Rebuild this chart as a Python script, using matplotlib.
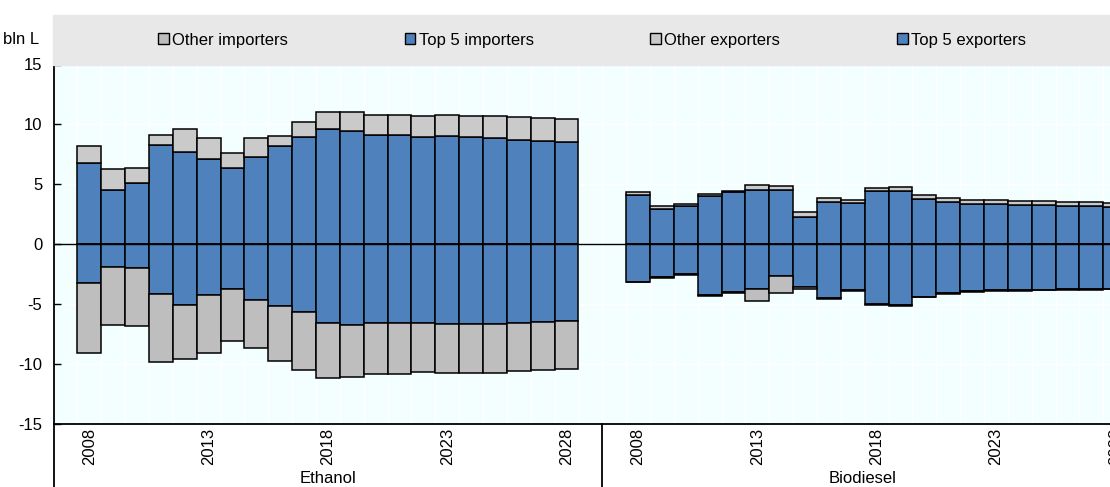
import numpy as np
import matplotlib.pyplot as plt
from matplotlib.lines import Line2D
from matplotlib.patches import Patch

plt.rcParams['font.family'] = ['Liberation Sans Narrow', 'Liberation Sans', 'DejaVu Sans']

years = list(range(2008, 2029))
groups = ['Ethanol', 'Biodiesel']

# exports (positive side), bln L
eth_top5_exp = [6.74, 4.51, 5.12, 8.24, 7.66, 7.10, 6.35, 7.27, 8.19, 8.91, 9.58,
                9.44, 9.10, 9.07, 8.96, 8.99, 8.93, 8.82, 8.68, 8.60, 8.50]
eth_total_exp = [8.21, 6.27, 6.32, 9.10, 9.58, 8.88, 7.58, 8.83, 9.05, 10.17, 11.00,
                 11.05, 10.80, 10.80, 10.69, 10.77, 10.72, 10.67, 10.58, 10.50, 10.44]
bio_top5_exp = [4.10, 2.90, 3.17, 4.00, 4.33, 4.50, 4.48, 2.27, 3.49, 3.43, 4.39,
                4.43, 3.78, 3.50, 3.36, 3.33, 3.28, 3.22, 3.17, 3.14, 3.08]
bio_total_exp = [4.36, 3.21, 3.36, 4.15, 4.43, 4.97, 4.84, 2.67, 3.81, 3.70, 4.70,
                 4.77, 4.11, 3.83, 3.69, 3.64, 3.58, 3.56, 3.53, 3.50, 3.44]

# imports (negative side), bln L
eth_top5_imp = [-3.22, -1.95, -2.02, -4.16, -5.07, -4.25, -3.76, -4.68, -5.16, -5.72, -6.56,
                -6.78, -6.63, -6.63, -6.57, -6.66, -6.69, -6.66, -6.60, -6.52, -6.46]
eth_total_imp = [-9.12, -6.75, -6.83, -9.87, -9.63, -9.12, -8.12, -8.65, -9.75, -10.53, -11.21,
                 -11.10, -10.86, -10.84, -10.72, -10.81, -10.81, -10.75, -10.64, -10.53, -10.45]
bio_top5_imp = [-3.15, -2.78, -2.53, -4.25, -3.98, -3.80, -2.71, -3.62, -4.53, -3.84, -5.03,
                -5.08, -4.39, -4.08, -3.94, -3.88, -3.85, -3.83, -3.80, -3.77, -3.74]
bio_total_imp = [-3.21, -2.83, -2.60, -4.33, -4.06, -4.80, -4.10, -3.78, -4.57, -3.89, -5.09,
                 -5.15, -4.46, -4.15, -3.99, -3.93, -3.90, -3.88, -3.85, -3.82, -3.79]

yticks = [-15, -10, -5, 0, 5, 10, 15]
label_years = [2008, 2013, 2018, 2023, 2028]

blue = '#4F81BD'
gray_exp = '#CACACA'
gray_imp = '#BEBEBE'

W, H = 1110, 487
fig = plt.figure(figsize=(W / 100, H / 100), dpi=100)

# grey legend band
fig.patches.append(plt.Rectangle((53 / W, (H - 64.5) / H), 1 - 53 / W, 49.5 / H,
                                 transform=fig.transFigure, color='#E8E8E8', zorder=0))

n = len(years)
slots = 2 * (n + 2)
slot_px = 23.86
ax = fig.add_axes([53.5 / W, (H - 423.5) / H, slots * slot_px / W, 359 / H])
ax.set_facecolor('#F3FFFF')

x_eth = np.arange(1, n + 1)
x_bio = np.arange(n + 3, 2 * n + 3)

ek = dict(edgecolor='black', linewidth=1.1, width=1.0, zorder=3)
for x, t5e, tote, t5i, toti in [(x_eth, eth_top5_exp, eth_total_exp, eth_top5_imp, eth_total_imp),
                                (x_bio, bio_top5_exp, bio_total_exp, bio_top5_imp, bio_total_imp)]:
    t5e = np.array(t5e); tote = np.array(tote)
    t5i = np.array(t5i); toti = np.array(toti)
    ax.bar(x, t5e, color=blue, **ek)
    ax.bar(x, tote - t5e, bottom=t5e, color=gray_exp, **ek)
    ax.bar(x, t5i, color=blue, **ek)
    ax.bar(x, toti - t5i, bottom=t5i, color=gray_imp, **ek)

ax.axhline(0, color='black', linewidth=1.0, zorder=4)

ax.set_xlim(-0.5, slots - 0.5)
ax.set_ylim(-15, 15)
ax.set_yticks(yticks)
ax.set_yticklabels([str(v) for v in yticks], fontsize=12)
ax.tick_params(axis='y', direction='in', length=5, width=1, pad=8)

# white grid
for xb in np.arange(0.5, slots - 0.5, 1.0):
    ax.axvline(xb, color='white', linewidth=1.0, zorder=1)
for yv in yticks[1:-1]:
    ax.axhline(yv, color='white', linewidth=1.0, zorder=1)

# x ticks
tick_pos = []
tick_lab = []
for xs in (x_eth, x_bio):
    for yr in label_years:
        tick_pos.append(xs[years.index(yr)])
        tick_lab.append(str(yr))
ax.set_xticks(tick_pos)
ax.set_xticklabels(tick_lab, rotation=90, fontsize=12, va='top')
ax.tick_params(axis='x', length=0, pad=3)

for s in ['top', 'left', 'bottom']:
    ax.spines[s].set_color('black')
    ax.spines[s].set_linewidth(1.3)
ax.spines['right'].set_visible(False)

# group separators below the axes
for xb in (-0.5, n + 1.5):
    ax.add_line(Line2D([xb, xb], [0, -0.2], transform=ax.get_xaxis_transform(),
                       color='black', linewidth=1.3, clip_on=False))

ax.text(x_eth.mean(), -0.152, groups[0], transform=ax.get_xaxis_transform(),
        ha='center', va='center', fontsize=12)
ax.text(33.4, -0.152, groups[1], transform=ax.get_xaxis_transform(),
        ha='center', va='center', fontsize=12)

fig.text(3 / W, (H - 40) / H, 'bln L', ha='left', va='center', fontsize=12)

# legend
handles = [Patch(facecolor=gray_imp, edgecolor='black', linewidth=1.0),
           Patch(facecolor=blue, edgecolor='black', linewidth=1.0),
           Patch(facecolor=gray_exp, edgecolor='black', linewidth=1.0),
           Patch(facecolor=blue, edgecolor='black', linewidth=1.0)]
labels = ['Other importers', 'Top 5 importers', 'Other exporters', 'Top 5 exporters']
fig.legend(handles, labels, loc='center', bbox_to_anchor=(592 / W, (H - 40) / H),
           ncol=4, frameon=False, fontsize=12, handlelength=0.65, handleheight=0.65,
           handletextpad=0.2, columnspacing=7.0, borderpad=0)

fig.savefig('out.png', dpi=100)
